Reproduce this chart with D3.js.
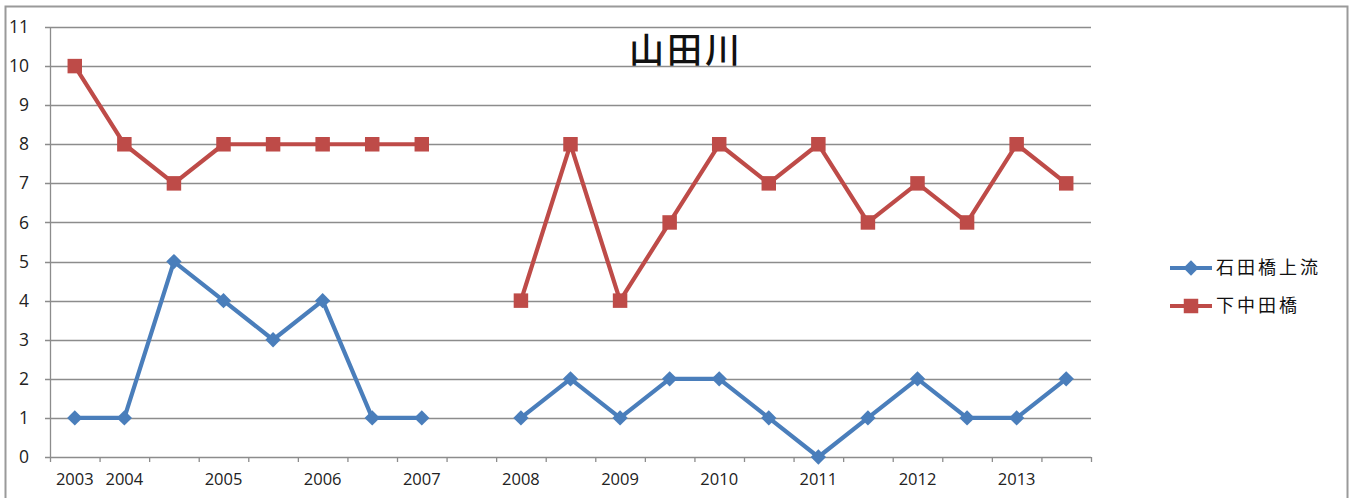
<!DOCTYPE html>
<html>
<head>
<meta charset="utf-8">
<script src="https://cdn.jsdelivr.net/npm/d3@7"></script>
<style>
  body { margin: 0; background: #fff; }
  text { font-family: "Open Sans", "Noto Sans CJK JP", sans-serif; }
</style>
</head>
<body>
<div id="chart"></div>
<script>
// categories (blank slots are unlabelled half-year points, index 8 is empty)
var labels = ["2003", "2004", "", "2005", "", "2006", "", "2007", "", "2008", "",
              "2009", "", "2010", "", "2011", "", "2012", "", "2013", ""];
var ishida = [1, 1, 5, 4, 3, 4, 1, 1, null, 1, 2, 1, 2, 2, 1, 0, 1, 2, 1, 1, 2];
var shimo  = [10, 8, 7, 8, 8, 8, 8, 8, null, 4, 8, 4, 6, 8, 7, 8, 6, 7, 6, 8, 7];
var yTicks = [0, 1, 2, 3, 4, 5, 6, 7, 8, 9, 10, 11];
var seriesNames = ["石田橋上流", "下中田橋"];

var width = 1357, height = 498;
var margin = { top: 27, left: 50, right: 266, bottom: 41 };
var plotW = width - margin.left - margin.right;
var plotH = height - margin.top - margin.bottom;

var svg = d3.select("#chart").append("svg")
    .attr("width", width)
    .attr("height", height);

// outer chart border
svg.append("rect")
    .attr("x", 5.5).attr("y", 6.5)
    .attr("width", 1342).attr("height", 500)
    .attr("fill", "none")
    .attr("stroke", "#9a9a9a")
    .attr("stroke-width", 2);

var g = svg.append("g")
    .attr("transform", "translate(" + margin.left + "," + margin.top + ")");

var idx = d3.range(labels.length);
var x = d3.scaleBand().domain(idx).range([0, plotW]);
var y = d3.scaleLinear().domain([0, 11]).range([plotH, 0]);

// gridlines
g.selectAll(".grid").data(yTicks).enter().append("line")
    .attr("x1", -5).attr("x2", plotW)
    .attr("y1", function(d) { return Math.round(y(d)) + 0.5; })
    .attr("y2", function(d) { return Math.round(y(d)) + 0.5; })
    .attr("stroke", "#8c8c8c")
    .attr("stroke-width", 1.3);

// y axis line
g.append("line")
    .attr("x1", 0.5).attr("x2", 0.5)
    .attr("y1", 0).attr("y2", plotH)
    .attr("stroke", "#8c8c8c").attr("stroke-width", 1.3);

// y labels
g.selectAll(".ylab").data(yTicks).enter().append("text")
    .attr("x", -21).attr("y", function(d) { return y(d); })
    .attr("dy", "0.35em")
    .attr("text-anchor", "end")
    .style("font-size", "17.5px")
    .attr("fill", "#222")
    .text(function(d) { return d; });

// x tick marks at category boundaries
var bounds = d3.range(labels.length + 1);
g.selectAll(".xtick").data(bounds).enter().append("line")
    .attr("x1", function(d) { return d * x.step() + 0.5; })
    .attr("x2", function(d) { return d * x.step() + 0.5; })
    .attr("y1", plotH).attr("y2", plotH + 5)
    .attr("stroke", "#8c8c8c").attr("stroke-width", 1.3);

// x labels
g.selectAll(".xlab").data(idx).enter().append("text")
    .attr("x", function(d) { return x(d) + x.bandwidth() / 2; })
    .attr("y", plotH + 28)
    .attr("text-anchor", "middle")
    .style("font-size", "16.5px")
    .attr("fill", "#222")
    .text(function(d) { return labels[d]; });

function cx(i) { return x(i) + x.bandwidth() / 2; }

var line = d3.line()
    .defined(function(d) { return d != null; })
    .x(function(d, i) { return cx(i); })
    .y(function(d) { return y(d); });

var blue = "#4a7ebb", red = "#be4b48";

g.append("path").datum(ishida)
    .attr("fill", "none").attr("stroke", blue)
    .attr("stroke-width", 4.2).attr("stroke-linejoin", "round")
    .attr("d", line);
g.append("path").datum(shimo)
    .attr("fill", "none").attr("stroke", red)
    .attr("stroke-width", 4.2).attr("stroke-linejoin", "round")
    .attr("d", line);

var diamond = d3.symbol().type(d3.symbolDiamond2).size(150);
var square = d3.symbol().type(d3.symbolSquare).size(210);

var bpts = idx.filter(function(i) { return ishida[i] != null; });
g.selectAll(".bm").data(bpts).enter().append("path")
    .attr("d", diamond)
    .attr("transform", function(i) { return "translate(" + cx(i) + "," + y(ishida[i]) + ")"; })
    .attr("fill", blue);

var rpts = idx.filter(function(i) { return shimo[i] != null; });
g.selectAll(".rm").data(rpts).enter().append("path")
    .attr("d", square)
    .attr("transform", function(i) { return "translate(" + cx(i) + "," + y(shimo[i]) + ")"; })
    .attr("fill", red);

// title
svg.append("text")
    .attr("x", 686).attr("y", 63)
    .attr("text-anchor", "middle")
    .style("font-family", "'Noto Sans CJK JP', sans-serif")
    .style("font-size", "35px")
    .style("letter-spacing", "3px")
    .style("font-weight", "500")
    .attr("fill", "#111")
    .text("山田川");

// legend
var legend = svg.selectAll(".leg").data(seriesNames).enter().append("g")
    .attr("transform", function(d, i) { return "translate(1170," + (268 + i * 38) + ")"; });
legend.append("line")
    .attr("x1", 0).attr("x2", 42)
    .attr("stroke", function(d, i) { return i ? red : blue; })
    .attr("stroke-width", 4);
legend.append("path")
    .attr("d", function(d, i) { return i ? square() : diamond(); })
    .attr("transform", "translate(21,0)")
    .attr("fill", function(d, i) { return i ? red : blue; });
legend.append("text")
    .attr("x", 46).attr("dy", "0.36em")
    .style("font-family", "'Noto Sans CJK JP', sans-serif")
    .style("font-size", "18px")
    .style("letter-spacing", "3px")
    .attr("fill", "#111")
    .text(function(d) { return d; });
</script>
</body>
</html>
